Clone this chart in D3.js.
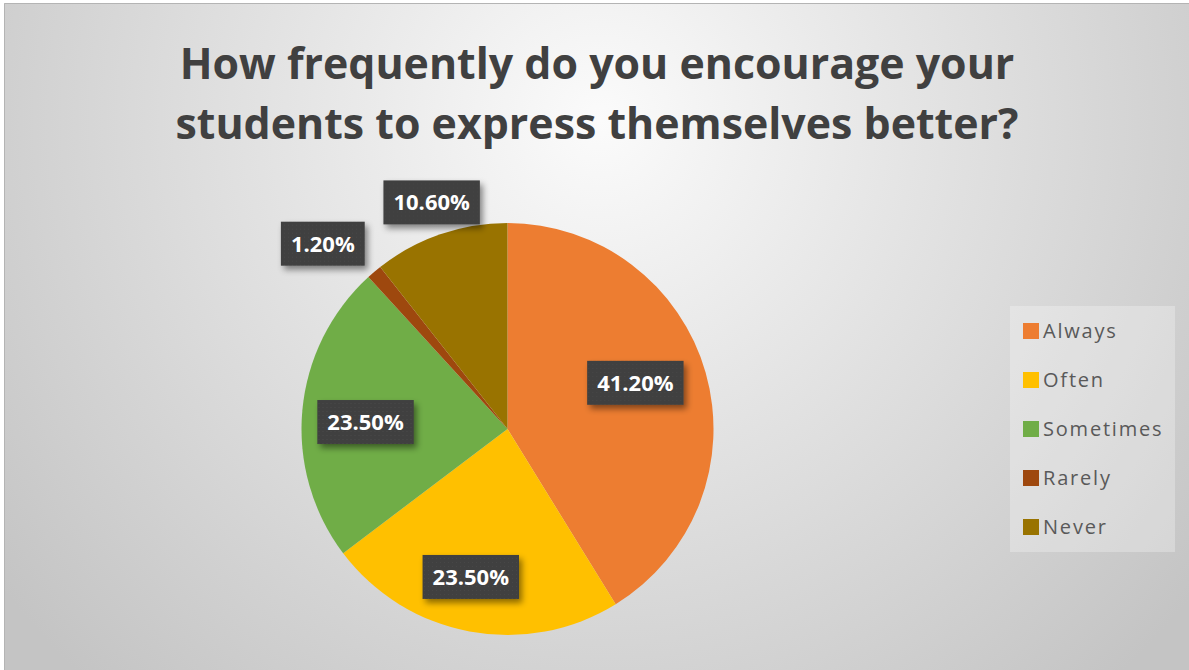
<!DOCTYPE html>
<html>
<head>
<meta charset="utf-8">
<script src="https://cdn.jsdelivr.net/npm/d3@7"></script>
<style>
  html, body { margin: 0; padding: 0; background: #ffffff; }
  svg { display: block; }
</style>
</head>
<body>
<svg id="chart" width="1189" height="670"></svg>
<script>
// Survey responses
const categories = ["Always", "Often", "Sometimes", "Rarely", "Never"];
const percentages = [41.2, 23.5, 23.5, 1.2, 10.6];
const sliceColors = ["#ED7D31", "#FFC000", "#70AD47", "#9E480E", "#997300"];
const titleLines = ["How frequently do you encourage your", "students to express themselves better?"];

const W = 1189, H = 670;
const svg = d3.select("#chart");
const defs = svg.append("defs");

// Background: soft radial gradient, lightest behind the title
const bg = defs.append("radialGradient")
  .attr("id", "bgGrad")
  .attr("gradientUnits", "userSpaceOnUse")
  .attr("cx", 600).attr("cy", 120).attr("r", 760);
bg.append("stop").attr("offset", "0%").attr("stop-color", "#fbfbfb");
bg.append("stop").attr("offset", "45%").attr("stop-color", "#e2e2e2");
bg.append("stop").attr("offset", "100%").attr("stop-color", "#c4c4c4");

svg.append("rect")
  .attr("x", 4).attr("y", 3)
  .attr("width", W - 4).attr("height", H - 3)
  .attr("fill", "url(#bgGrad)");
svg.append("path")
  .attr("d", `M4.5,${H} L4.5,3.5 L${W},3.5`)
  .attr("fill", "none")
  .attr("stroke", "#b4b4b4")
  .attr("stroke-width", 1);

// Label box shadow and texture
const shadow = defs.append("filter").attr("id", "boxShadow")
  .attr("x", "-20%").attr("y", "-20%").attr("width", "150%").attr("height", "160%");
shadow.append("feDropShadow")
  .attr("dx", 3).attr("dy", 4).attr("stdDeviation", 3)
  .attr("flood-color", "#000").attr("flood-opacity", 0.45);

const dots = defs.append("pattern").attr("id", "dots")
  .attr("width", 4).attr("height", 4).attr("patternUnits", "userSpaceOnUse");
dots.append("rect").attr("width", 4).attr("height", 4).attr("fill", "#3f3f3f");
dots.append("rect").attr("x", 1).attr("y", 1).attr("width", 1).attr("height", 1).attr("fill", "#4a4a4a");

// Title
const titleFont = "'Open Sans', 'DejaVu Sans', sans-serif";
const title = svg.append("g").attr("font-family", titleFont)
  .attr("font-weight", 700).attr("fill", "#404040").attr("text-anchor", "middle");
const titleSpans = title.selectAll("text").data(titleLines).join("text")
  .attr("x", 597)
  .attr("y", (d, i) => 79 + i * 60)
  .attr("font-size", 40)
  .text(d => d);
// scale the title so the first line spans the intended width
const w0 = titleSpans.nodes()[0].getComputedTextLength();
titleSpans.attr("font-size", 40 * 835 / w0);

// Pie
const cx = 507.5, cy = 429, R = 206;
const pie = d3.pie().sort(null).value(d => d);
const arcs = pie(percentages);
const arc = d3.arc().innerRadius(0).outerRadius(R);
const color = d3.scaleOrdinal().domain(categories).range(sliceColors);

const g = svg.append("g").attr("transform", `translate(${cx},${cy})`);
g.selectAll("path.slice").data(arcs).join("path")
  .attr("class", "slice")
  .attr("d", arc)
  .attr("fill", (d, i) => color(categories[i]));

// Data label placement ("best fit"): radius as a fraction of R and an angular nudge per slice
const labelFit = [
  { r: 0.66, da: -0.07 },
  { r: 0.74, da: 0.058 },
  { r: 0.69, da: -0.042 },
  { r: 1.27, da: -0.08 },
  { r: 1.16, da: 0.01 }
];
function labelPos(d, i) {
  const mid = (d.startAngle + d.endAngle) / 2;
  const a = mid + labelFit[i].da, r = labelFit[i].r * R;
  return [Math.sin(a) * r, -Math.cos(a) * r];
}

const labelFont = "'Open Sans', 'DejaVu Sans', sans-serif";
const labels = g.selectAll("g.label").data(arcs).join("g")
  .attr("class", "label")
  .attr("transform", (d, i) => { const p = labelPos(d, i); return `translate(${p[0]},${p[1]})`; });

labels.each(function (d) {
  const sel = d3.select(this);
  const txt = d.value.toFixed(2) + "%";
  const rect = sel.append("rect").attr("fill", "url(#dots)").attr("filter", "url(#boxShadow)");
  const t = sel.append("text")
    .attr("font-family", labelFont)
    .attr("font-weight", 700)
    .attr("font-size", 22)
    .attr("fill", "#ffffff")
    .attr("text-anchor", "middle")
    .attr("dy", "0.36em")
    .text(txt);
  const tw = t.node().getComputedTextLength();
  const bw = tw + 20, bh = 44;
  rect.attr("x", -bw / 2).attr("y", -bh / 2).attr("width", bw).attr("height", bh);
});

// Legend
const legend = svg.append("g");
legend.append("rect")
  .attr("x", 1010).attr("y", 306).attr("width", 165).attr("height", 246)
  .attr("fill", "#ffffff").attr("fill-opacity", 0.28);

const legendFont = "'Open Sans', 'DejaVu Sans', sans-serif";
const items = legend.selectAll("g.item").data(categories).join("g")
  .attr("class", "item")
  .attr("transform", (d, i) => `translate(1023,${331 + i * 49})`);
items.append("rect")
  .attr("x", 0).attr("y", -8).attr("width", 16).attr("height", 16)
  .attr("fill", d => color(d));
items.append("text")
  .attr("x", 20).attr("dy", "0.35em")
  .attr("font-family", legendFont)
  .attr("font-size", 20)
  .attr("letter-spacing", 1.8)
  .attr("fill", "#595959")
  .text(d => d);
</script>
</body>
</html>
